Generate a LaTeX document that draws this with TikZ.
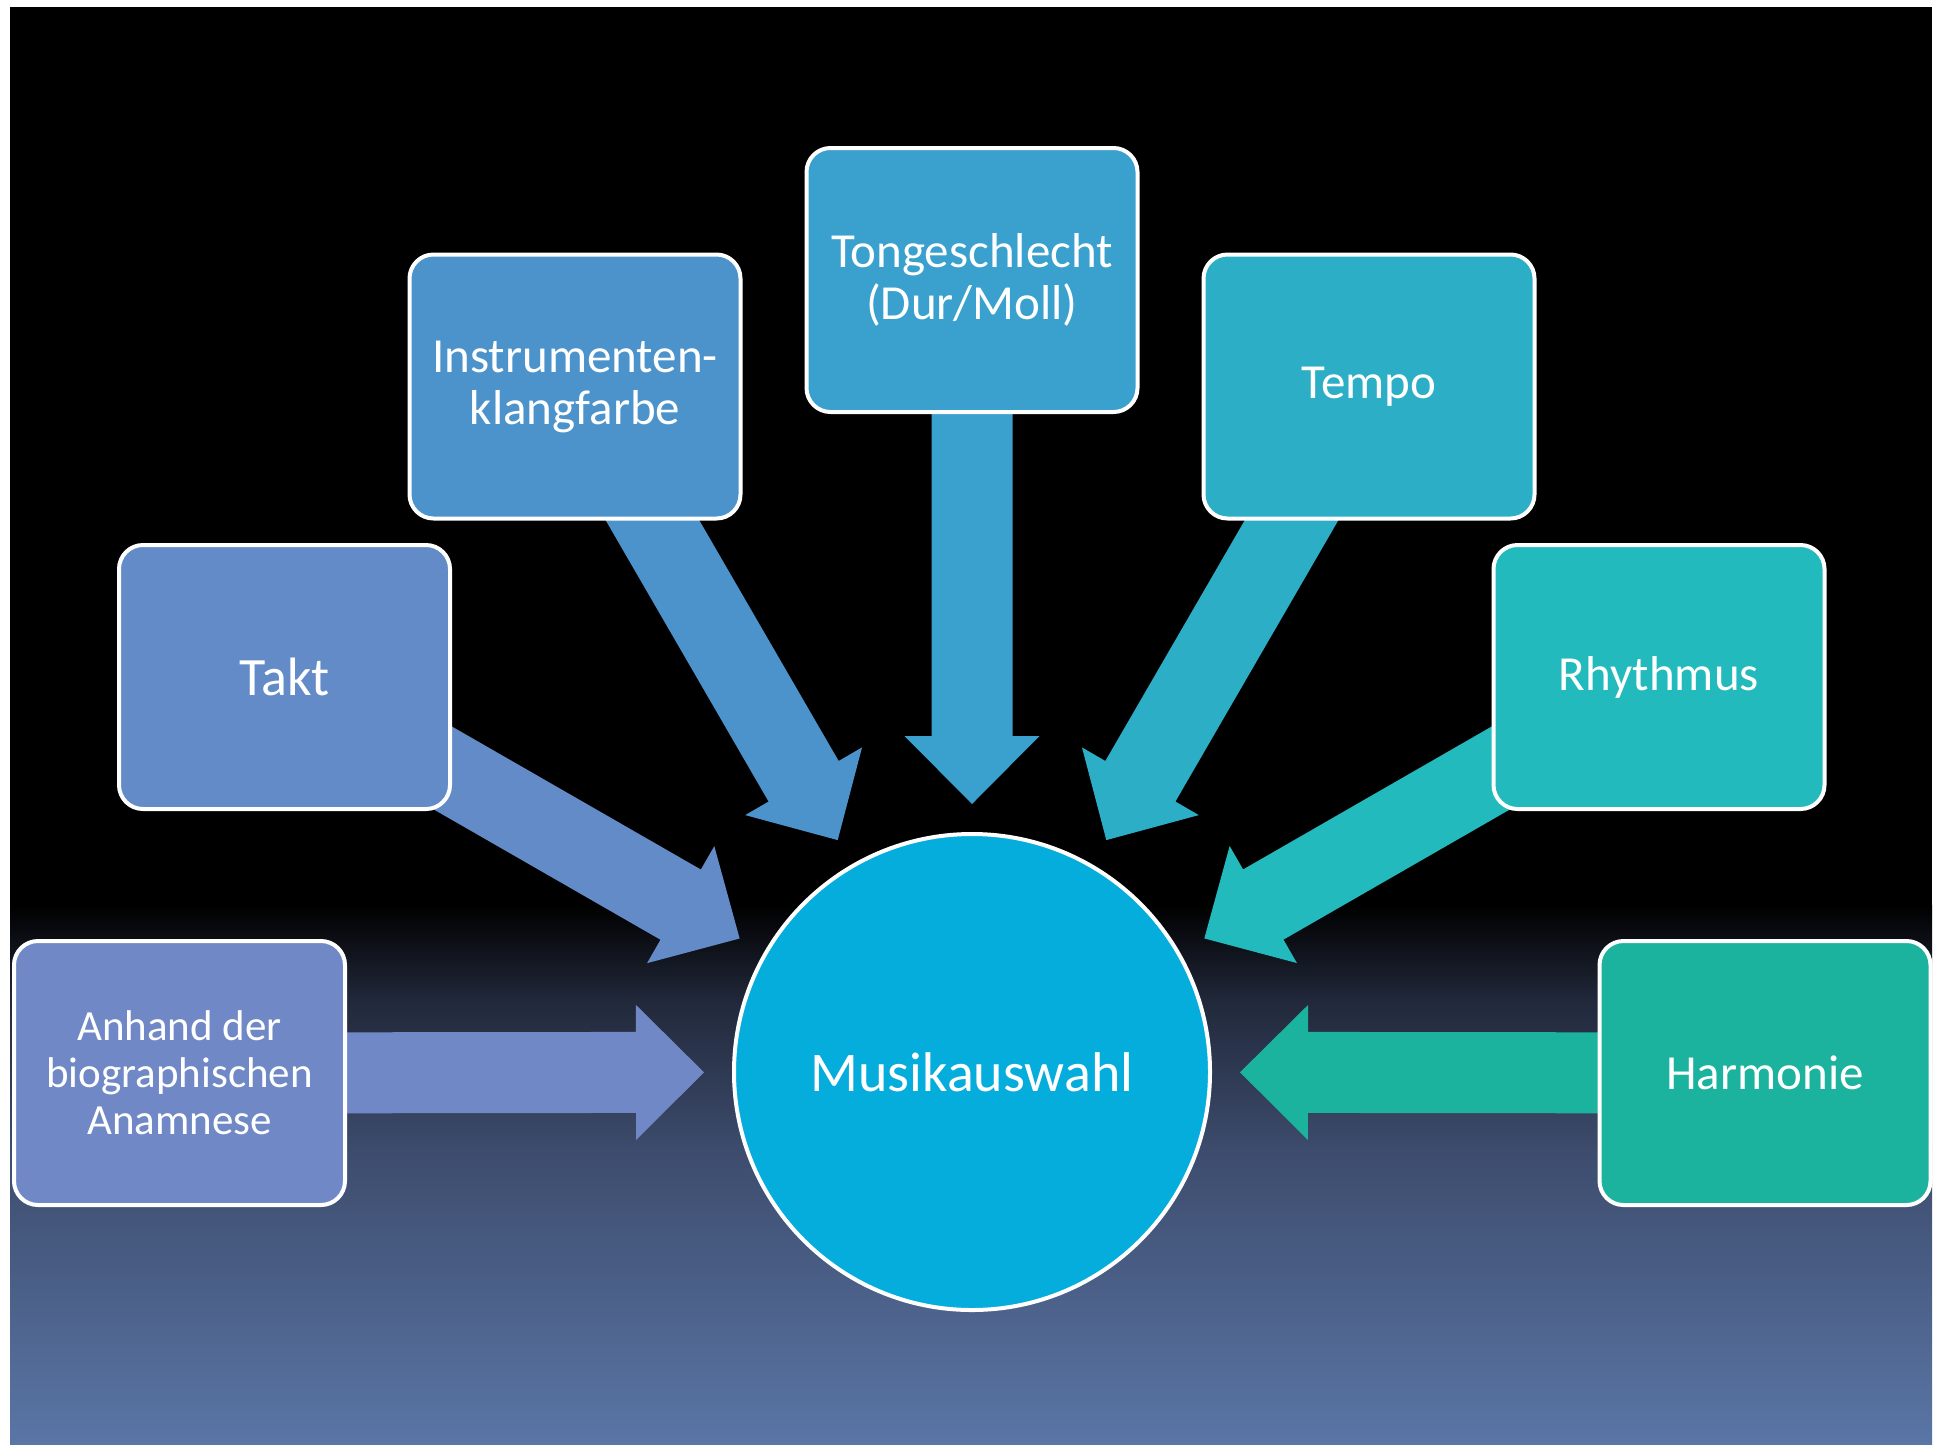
\documentclass[tikz,border=0pt]{standalone}
\usepackage{fontspec}
\setmainfont{Carlito}
\usetikzlibrary{calc}
\pgfdeclarelayer{bg}
\pgfdeclarelayer{arr}
\pgfsetlayers{bg,arr,main}
\definecolor{cAnh}{HTML}{7089C6}
\definecolor{cTakt}{HTML}{628BC7}
\definecolor{cInst}{HTML}{4D93CB}
\definecolor{cTong}{HTML}{3AA0CD}
\definecolor{cTempo}{HTML}{2DAEC7}
\definecolor{cRhy}{HTML}{22BABC}
\definecolor{cHarm}{HTML}{1BB39E}
\definecolor{cMusik}{HTML}{04ADDB}
\definecolor{bgA}{HTML}{21283A}
\definecolor{bgB}{HTML}{3D4C6D}
\definecolor{bgC}{HTML}{5A76A6}
\tikzset{
  boxnode/.style={draw=white, line width=4pt, rounded corners=24pt,
    minimum width=331pt, minimum height=264pt, text=white, align=center, inner sep=0pt},
  circnode/.style={circle, draw=white, line width=4pt, fill=cMusik,
    minimum size=476pt, text=white, inner sep=0pt},
}
\newcommand{\radarrow}[2]{%
  \path ($(mc.center)!268pt!(#1.center)$) coordinate (T)
        ($(mc.center)!336pt!(#1.center)$) coordinate (H);
  \fill[#2] ($(#1.center)!40.5pt!-90:(H)$) -- ($(H)!40.5pt!90:(#1.center)$)
    -- ($(H)!67.5pt!90:(#1.center)$) -- (T) -- ($(H)!67.5pt!-90:(#1.center)$)
    -- ($(H)!40.5pt!-90:(#1.center)$) -- ($(#1.center)!40.5pt!90:(H)$) -- cycle;
}
\begin{document}
\begin{tikzpicture}[x=1pt, y=-1pt]
\useasboundingbox (0,0) rectangle (1941,1444);
\begin{pgfonlayer}{bg}
  \fill[white] (0,0) rectangle (1941,1444);
  \fill[black] (10,7) rectangle (1932,1444);
  \shade[top color=black, bottom color=bgA] (10,905) rectangle (1932,1000.5);
  \shade[top color=bgA, bottom color=bgB] (10,1000) rectangle (1932,1150.5);
  \shade[top color=bgB, bottom color=bgC] (10,1150) rectangle (1932,1444);
\end{pgfonlayer}

\node[circnode, font=\fontsize{56}{60}\selectfont] (mc) at (972,1072) {Musikauswahl};

\node[boxnode, fill=cAnh, font=\fontsize{43}{47}\selectfont] (anh) at (179.5,1073) {Anhand der\\biographischen\\Anamnese};
\node[boxnode, fill=cTakt, font=\fontsize{54}{58}\selectfont] (takt) at (284.5,677) {Takt};
\node[boxnode, fill=cInst, font=\fontsize{49}{52}\selectfont] (inst) at (575,386.5) {Instrumenten-\\klangfarbe};
\node[boxnode, fill=cTong, font=\fontsize{49}{52}\selectfont] (tong) at (972,280) {Tongeschlecht\\(Dur/Moll)};
\node[boxnode, fill=cTempo, font=\fontsize{49}{52}\selectfont] (tempo) at (1369,386.5) {Tempo};
\node[boxnode, fill=cRhy, font=\fontsize{49}{52}\selectfont] (rhy) at (1659,677) {Rhythmus};
\node[boxnode, fill=cHarm, font=\fontsize{49}{52}\selectfont] (harm) at (1765,1073) {Harmonie};

\begin{pgfonlayer}{arr}
  \radarrow{anh}{cAnh}
  \radarrow{takt}{cTakt}
  \radarrow{inst}{cInst}
  \radarrow{tong}{cTong}
  \radarrow{tempo}{cTempo}
  \radarrow{rhy}{cRhy}
  \radarrow{harm}{cHarm}
\end{pgfonlayer}
\end{tikzpicture}
\end{document}
